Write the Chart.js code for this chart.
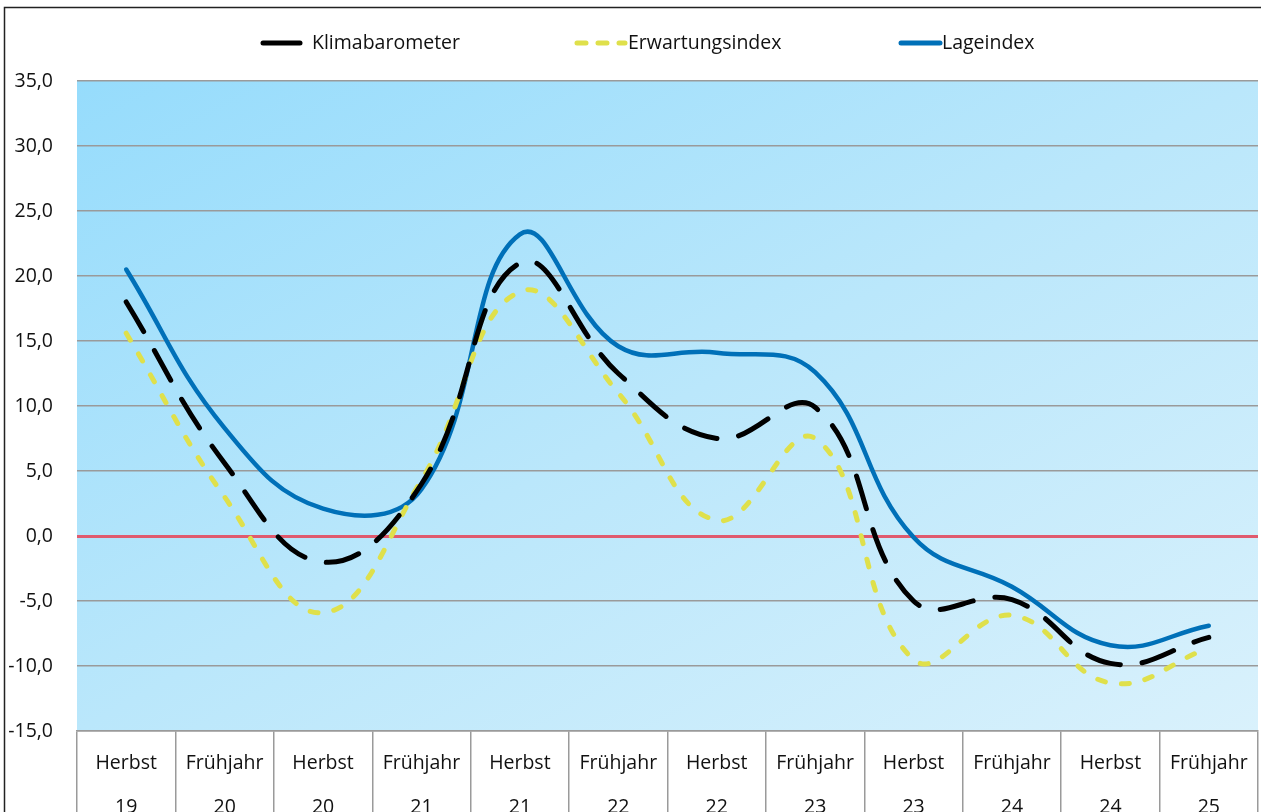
<!DOCTYPE html>
<html>
<head>
<meta charset="utf-8">
<script src="https://cdn.jsdelivr.net/npm/chart.js@4/dist/chart.umd.min.js"></script>
<style>
  html, body { margin: 0; padding: 0; background: #ffffff; overflow: hidden; }
  #wrap { position: relative; width: 1261px; height: 812px; }
</style>
</head>
<body>
<div id="wrap"><canvas id="c" width="1261" height="812"></canvas></div>
<script>
// ---- data ----
const seasons = ['Herbst','Frühjahr','Herbst','Frühjahr','Herbst','Frühjahr','Herbst','Frühjahr','Herbst','Frühjahr','Herbst','Frühjahr'];
const years   = ['19','20','20','21','21','22','22','23','23','24','24','25'];
const seriesNames = ['Klimabarometer', 'Erwartungsindex', 'Lageindex'];
const klimabarometer  = [18.0, 5.6, -2.0, 4.0, 21.0, 12.5, 7.5, 9.9, -5.0, -4.9, -9.8, -7.8];
const erwartungsindex = [15.6, 3.0, -5.9, 4.3, 18.8, 11.0, 1.2, 7.5, -9.5, -6.1, -11.3, -8.6];
const lageindex       = [20.5, 8.3, 2.1, 3.6, 23.2, 14.6, 14.1, 12.6, -0.1, -3.9, -8.4, -6.9];
const yMin = -15, yMax = 35, yStep = 5;

const labels = seasons.map((s, i) => [s, years[i]]);
const FONT = "'Open Sans', 'Noto Sans', sans-serif";

const bgPlugin = {
  id: 'bg',
  beforeDraw(chart) {
    const { ctx, chartArea: a } = chart;
    const w = a.right - a.left, h = a.bottom - a.top;
    const k = 2 * w * h / (w * w + h * h);
    ctx.save();
    const g = ctx.createLinearGradient(a.left, a.top, a.left + k * h, a.top + k * w);
    g.addColorStop(0, '#96dcfc');
    g.addColorStop(0.5, '#bae7fb');
    g.addColorStop(1, '#d9f1fc');
    ctx.fillStyle = g;
    ctx.fillRect(a.left, a.top, w, h);
    // outer frame
    ctx.strokeStyle = '#222';
    ctx.lineWidth = 1.5;
    ctx.beginPath();
    ctx.moveTo(4.5, 812);
    ctx.lineTo(4.5, 7.5);
    ctx.lineTo(1261, 7.5);
    ctx.stroke();
    ctx.restore();
  }
};

const legendPlugin = {
  id: 'customLegend',
  afterDraw(chart) {
    const { ctx } = chart;
    const pos = [
      { x1: 263, x2: 300, tx: 312 },
      { x1: 577, x2: 625, tx: 628 },
      { x1: 901, x2: 940, tx: 942 }
    ];
    const y = 43;
    ctx.save();
    chart.data.datasets.forEach((ds, i) => {
      const p = pos[i];
      ctx.strokeStyle = ds.borderColor;
      ctx.lineWidth = 5;
      ctx.lineCap = 'round';
      ctx.setLineDash(i === 1 ? [9, 12] : []);
      ctx.beginPath();
      ctx.moveTo(p.x1, y);
      ctx.lineTo(p.x2, y);
      ctx.stroke();
      ctx.setLineDash([]);
      ctx.fillStyle = '#111';
      ctx.font = "19.5px " + FONT;
      ctx.textBaseline = 'middle';
      ctx.textAlign = 'left';
      ctx.fillText(ds.label, p.tx, y);
    });
    ctx.restore();
  }
};

new Chart(document.getElementById('c'), {
  type: 'line',
  data: {
    labels: labels,
    datasets: [
      {
        label: seriesNames[0], data: klimabarometer,
        borderColor: '#000000', borderWidth: 5, borderDash: [34, 22], borderCapStyle: 'round',
        tension: 0.42, pointRadius: 0, fill: false
      },
      {
        label: seriesNames[1], data: erwartungsindex,
        borderColor: '#dfe04b', borderWidth: 5, borderDash: [8, 16], borderCapStyle: 'round',
        tension: 0.42, pointRadius: 0, fill: false
      },
      {
        label: seriesNames[2], data: lageindex,
        borderColor: '#0070b8', borderWidth: 4.5, borderCapStyle: 'round',
        tension: 0.42, pointRadius: 0, fill: false
      }
    ]
  },
  options: {
    responsive: false,
    animation: false,
    events: [],
    layout: { padding: { top: 81, left: 0, right: 3, bottom: 0 } },
    plugins: { legend: { display: false }, tooltip: { enabled: false }, title: { display: false } },
    scales: {
      x: {
        type: 'category',
        offset: true,
        afterFit(scale) { scale.height = 81; },
        grid: { display: true, drawOnChartArea: false, offset: true, tickLength: 81, color: '#9a9a9a', lineWidth: 1.5 },
        border: { display: true, color: '#9a9a9a', width: 1.5 },
        ticks: {
          autoSkip: false, maxRotation: 0, padding: -71, color: '#111',
          font: { family: FONT, size: 19.5, lineHeight: '44px' }
        }
      },
      y: {
        min: yMin, max: yMax,
        afterFit(scale) { scale.width = 77; },
        border: { display: false },
        grid: {
          drawTicks: false,
          color: (c) => c.tick && c.tick.value === 0 ? '#e05a6e' : '#9a9a9a',
          lineWidth: (c) => c.tick && c.tick.value === 0 ? 3 : 1.5
        },
        ticks: {
          stepSize: yStep, padding: 24, color: '#111',
          font: { family: FONT, size: 19.5 },
          callback: (v) => v.toFixed(1).replace('.', ',')
        }
      }
    }
  },
  plugins: [bgPlugin, legendPlugin]
});
</script>
</body>
</html>
